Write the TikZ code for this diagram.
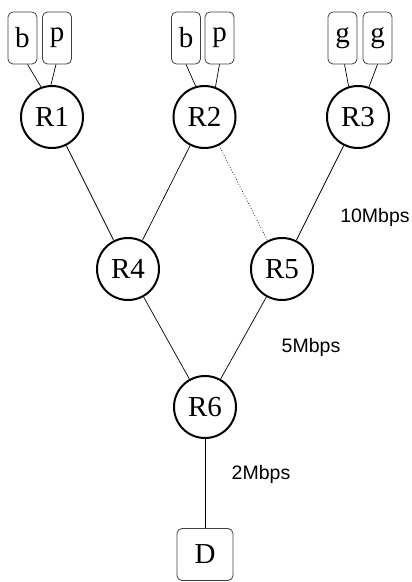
\documentclass[tikz,border=0pt]{standalone}
\usepackage{fontspec}
\setmainfont{Liberation Serif}
\setsansfont{Liberation Sans}

\tikzset{
    routeur/.style={circle, draw, line width=2pt, minimum size=62pt, inner sep=0pt, font=\fontsize{29}{30}\selectfont},
    hote/.style={draw=black!75, rounded corners=5pt, line width=0.8pt, minimum width=29pt, minimum height=52pt, inner sep=0pt, font=\fontsize{29}{30}\selectfont},
    lien/.style={line width=0.7pt},
    debit/.style={font=\sffamily\fontsize{19.5}{20}\selectfont}
}

\begin{document}
\begin{tikzpicture}[x=1pt, y=-1pt]
    % Cadre
    \useasboundingbox (0,0) rectangle (412,582);

    % Routeurs
    \node[routeur] (R1) at (52,117) {R1};
    \node[routeur] (R2) at (204.5,117) {R2};
    \node[routeur] (R3) at (358,117) {R3};
    \node[routeur] (R4) at (128,269) {R4};
    \node[routeur] (R5) at (282,269) {R5};
    \node[routeur] (R6) at (205,407) {R6};

    % Hotes
    \node[hote] (b1) at (22.5,38) {b};
    \node[hote] (p1) at (57,38) {p};
    \node[hote] (b2) at (186,38) {b};
    \node[hote] (p2) at (219.5,38) {p};
    \node[hote] (g1) at (342.5,38) {g};
    \node[hote] (g2) at (377.5,38) {g};
    \node[hote, minimum width=56pt] (D) at (205,554.5) {D};

    % Liens hotes - routeurs
    \draw[lien] ([xshift=5pt]b1.south) -- (R1.110);
    \draw[lien] ([xshift=-1pt]p1.south) -- (R1.92);
    \draw[lien] (b2.south) -- (R2.106);
    \draw[lien] (p2.south) -- (R2.70);
    \draw[lien] ([xshift=2pt]g1.south) -- (R3.107);
    \draw[lien] (g2.south) -- (R3.70);

    % Liens entre routeurs
    \draw[lien] (R1) -- (R4);
    \draw[lien] (R2) -- (R4);
    \draw[lien, dotted] (R2) -- (R5);
    \draw[lien] (R3) -- (R5);
    \draw[lien] (R4) -- (R6);
    \draw[lien] (R5) -- (R6);
    \draw[lien] (R6) -- (D);

    % Debits
    \node[debit] (d10) at (375,217) {10Mbps};
    \node[debit] (d5) at (311,347) {5Mbps};
    \node[debit] (d2) at (261,474) {2Mbps};

\end{tikzpicture}
\end{document}
